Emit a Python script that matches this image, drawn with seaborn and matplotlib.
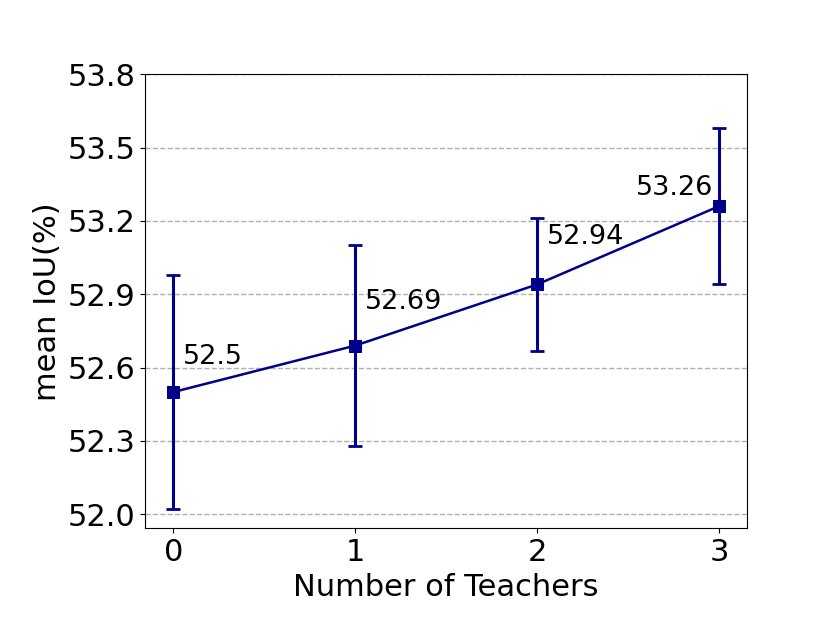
import matplotlib
matplotlib.use("Agg")
import matplotlib.pyplot as plt
import seaborn as sns
import pandas as pd
import numpy as np

teachers = [0, 1, 2, 3]
miou = [52.5, 52.69, 52.94, 53.26]
err = [0.48, 0.41, 0.27, 0.32]
labels = ["52.5", "52.69", "52.94", "53.26"]

df = pd.DataFrame({"teachers": teachers, "miou": miou})

fig, ax = plt.subplots(figsize=(8.3, 6.23), dpi=100)
fig.subplots_adjust(left=0.175, right=0.9, top=0.881, bottom=0.152)

ax.grid(axis="y", linestyle="--", color="#b0b0b0", linewidth=1)
ax.set_axisbelow(True)

ax.errorbar(teachers, miou, yerr=err, fmt="none", ecolor="darkblue",
            elinewidth=2.2, capsize=5, capthick=2)
sns.lineplot(data=df, x="teachers", y="miou", ax=ax, color="darkblue",
             marker="s", markersize=8, markeredgecolor="darkblue", linewidth=1.8)

# label offsets (points)
offs = [(7, 16), (7, 22), (7, 25), (-4, 4)]
has = ["left", "left", "left", "right"]
for x, y, t, o, h in zip(teachers, miou, labels, offs, has):
    ax.annotate(t, (x, y), xytext=o, textcoords="offset points",
                ha=h, va="bottom", fontsize=19.5)

ax.set_yticks(np.arange(52.0, 53.81, 0.3))
ax.set_ylim(51.943, 53.8)
ax.set_xticks(teachers)
ax.set_xlim(-0.154, 3.154)
ax.tick_params(labelsize=22)
ax.set_xlabel("Number of Teachers", fontsize=22)
ax.set_ylabel("mean IoU(%)", fontsize=22)

fig.savefig("out.png", dpi=100)
